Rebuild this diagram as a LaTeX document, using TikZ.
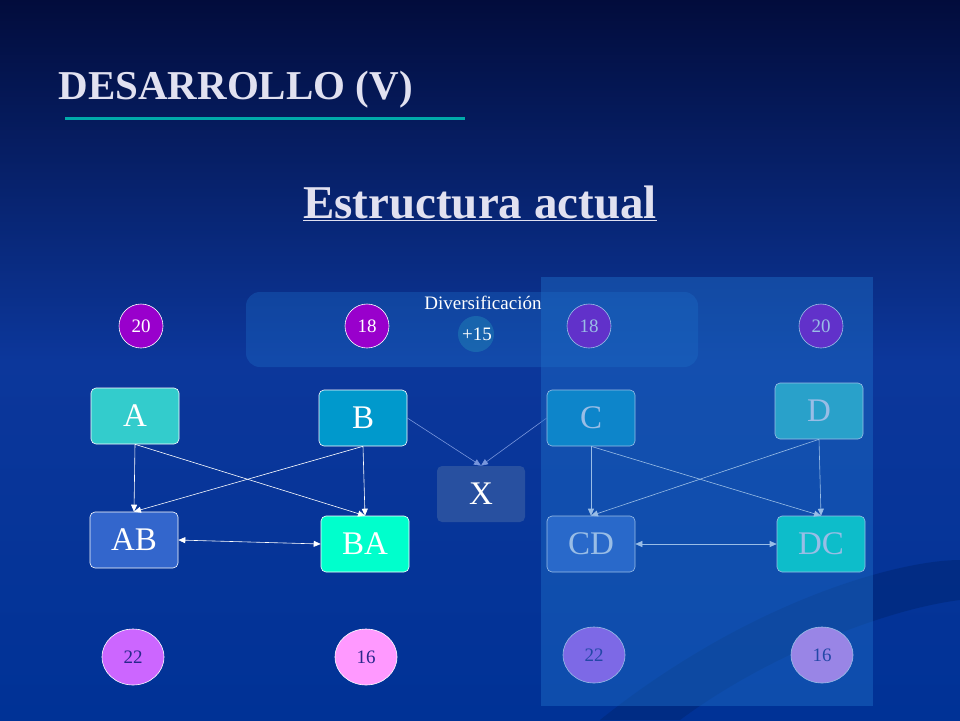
\documentclass[tikz,border=0pt]{standalone}
\usepackage{fontspec}
\setmainfont{Liberation Serif}
\usetikzlibrary{arrows.meta,shapes.geometric}
\definecolor{bgtop}{RGB}{2,12,60}
\definecolor{bgmid}{RGB}{12,55,155}
\definecolor{bgbot}{RGB}{0,50,150}
\definecolor{swoosh}{RGB}{0,40,120}
\definecolor{ttl}{RGB}{225,225,240}
\definecolor{uline}{RGB}{0,170,170}
\definecolor{panel}{RGB}{30,110,200}
\definecolor{pcirc}{RGB}{30,120,180}
\definecolor{purp}{RGB}{153,0,204}
\definecolor{cA}{RGB}{51,204,204}
\definecolor{cB}{RGB}{0,153,204}
\definecolor{cAB}{RGB}{51,102,204}
\definecolor{cBA}{RGB}{0,255,204}
\definecolor{cX}{RGB}{40,80,160}
\definecolor{lil}{RGB}{204,102,255}
\definecolor{pink}{RGB}{255,153,255}
\definecolor{dtext}{RGB}{40,40,140}
\definecolor{xarr}{RGB}{120,150,220}
\begin{document}
\begin{tikzpicture}[x=1pt,y=-1pt,
 box/.style={draw=white,rounded corners=5pt,minimum width=88pt,minimum height=56pt,text=white,font=\fontsize{33}{33}\selectfont,line width=0.6pt},
 num/.style={circle,draw=white,text=white,minimum size=44pt,inner sep=0pt,font=\fontsize{19}{19}\selectfont,line width=0.6pt},
 bnum/.style={ellipse,draw=white,text=dtext,minimum width=62pt,minimum height=56pt,inner sep=0pt,font=\fontsize{19}{19}\selectfont,line width=0.6pt},
 arr/.style={-{Triangle[length=7pt,width=6pt]},white,line width=0.6pt},
 darr/.style={{Triangle[length=7pt,width=6pt]}-{Triangle[length=7pt,width=6pt]},white,line width=0.6pt}]
\useasboundingbox (0,0) rectangle (960,720);
\shade[top color=bgtop,bottom color=bgbot,middle color=bgmid] (0,0) rectangle (960,720);
\fill[swoosh,opacity=0.6] (600,720) .. controls (750,600) and (900,560) .. (960,560) -- (960,600) .. controls (880,610) and (760,660) .. (680,720) -- cycle;
\node[font=\bfseries\fontsize{41}{41}\selectfont,text=ttl,anchor=west] (t1) at (55,90) {DESARROLLO (V)};
\draw[uline,line width=3pt] (65,118) -- (465,118);
\node[font=\bfseries\fontsize{47}{47}\selectfont,text=ttl] (t2) at (480,203) {\underline{Estructura actual}};
\fill[panel,opacity=0.35,rounded corners=14pt] (246,292) rectangle (698,367);
\node[text=white,font=\fontsize{19}{19}\selectfont] (dv) at (483,303) {Diversificación};
\fill[pcirc,opacity=0.6] (476,334) circle (18);
\node[text=white,font=\fontsize{19}{19}\selectfont] (p15) at (477,334) {+15};
\node[num,fill=purp] (n1) at (141,326) {20};
\node[num,fill=purp] (n2) at (367,326) {18};
\node[num,fill=purp] (n3) at (589,326) {18};
\node[num,fill=purp] (n4) at (821,326) {20};
\node[box,fill=cA] (A) at (135,416) {A};
\node[box,fill=cB] (B) at (363,418) {B};
\node[box,fill=cB] (C) at (591,418) {C};
\node[box,fill=cA] (D) at (819,411) {D};
\node[box,fill=cAB] (AB) at (134,540) {AB};
\node[box,fill=cBA] (BA) at (365,544) {BA};
\node[box,fill=cAB] (CD) at (591,544) {CD};
\node[box,fill=cBA] (DC) at (821,544) {DC};
\node[box,draw=none,fill=cX] (X) at (481,494) {X};
\node[bnum,fill=lil] (m1) at (133,657) {22};
\node[bnum,fill=pink] (m2) at (366,657) {16};
\node[bnum,fill=lil] (m3) at (594,655) {22};
\node[bnum,fill=pink] (m4) at (822,655) {16};
\draw[arr] (A.south) -- (AB.north);
\draw[arr] (A.south) -- (BA.north);
\draw[arr] (B.south) -- (AB.north);
\draw[arr] (B.south) -- (BA.north);
\draw[darr] (AB.east) -- (BA.west);
\draw[arr,xarr] (B.east) -- (X.north);
\draw[arr,xarr] (C.west) -- (X.north);
\draw[arr] (C.south) -- (CD.north);
\draw[arr] (C.south) -- (DC.north);
\draw[arr] (D.south) -- (CD.north);
\draw[arr] (D.south) -- (DC.north);
\draw[darr] (CD.east) -- (DC.west);
\fill[panel,opacity=0.45] (541,277) rectangle (873,706);
\end{tikzpicture}
\end{document}
